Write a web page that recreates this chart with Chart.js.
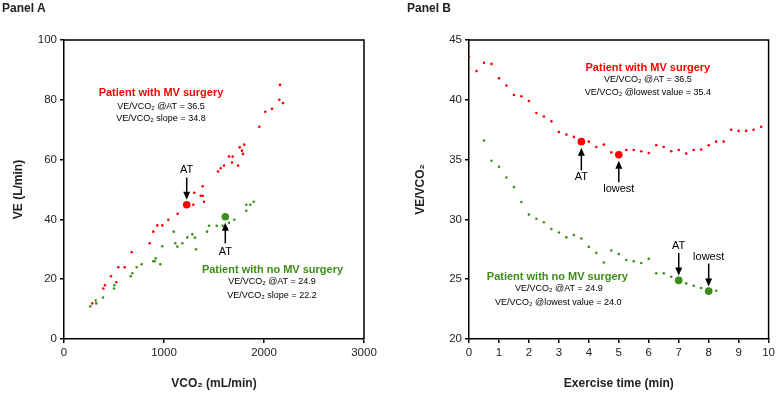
<!DOCTYPE html>
<html><head><meta charset="utf-8">
<script src="https://cdn.jsdelivr.net/npm/chart.js@4.4.1/dist/chart.umd.min.js"></script>
<style>
html,body{margin:0;padding:0;background:#fff;width:778px;height:395px;overflow:hidden;font-family:"Liberation Sans",Arial,sans-serif}
.wrap{position:absolute;top:0;width:389px;height:395px}
.lbl{position:absolute;top:1px;font-weight:bold;font-size:12px;color:#222;line-height:14px}
</style></head><body>
<div class="wrap" style="left:0"><canvas id="cA" width="389" height="395"></canvas></div>
<div class="wrap" style="left:389px"><canvas id="cB" width="389" height="395"></canvas></div>
<div class="lbl" style="left:2px">Panel A</div>
<div class="lbl" style="left:407px">Panel B</div>
<script>
// ---------- Panel A data: VE (L/min) vs VCO2 (mL/min) ----------
const mvVco2 = [283,393,410,470,523,543,607,677,857,893,933,983,1043,1137,1293,1400,1367,1387,1303,1387,1540,1567,1600,1740,1680,1650,1687,1790,1780,1757,1803,1953,2013,2080,2190,2153,2160];
const mvVe   = [11.9,16.9,18.0,21.0,19.0,24.0,24.0,29.0,32.0,35.9,38.0,38.0,39.9,41.9,44.9,45.9,47.9,47.9,48.9,51.1,56.0,57.1,58.0,58.0,59.0,61.0,61.0,61.9,63.0,64.1,65.0,71.0,76.0,77.0,78.9,80.0,85.0];
const noMvVco2 = [263,317,323,390,500,503,667,683,727,777,893,907,917,963,983,1097,1113,1133,1183,1233,1283,1310,1320,1430,1450,1527,1587,1650,1703,1823,1823,1863,1897];
const noMvVe   = [10.9,12.9,11.9,13.9,16.9,18.0,21.0,22.0,24.0,25.0,26.0,26.0,27.0,25.0,31.0,35.9,32.0,30.9,32.0,34.0,35.0,33.9,30.0,35.9,37.9,37.9,37.9,38.9,39.9,42.9,44.9,44.9,45.9];
const mvAtA   = {vco2: 1227, ve: 44.9};
const noMvAtA = {vco2: 1613, ve: 40.9};
const xTicksA = [0,1000,2000,3000];
const yTicksA = [0,20,40,60,80,100];

// ---------- Panel B data: VE/VCO2 vs exercise time (min) ----------
const mvTime = [0,0.25,0.5,0.75,1,1.25,1.5,1.75,2,2.25,2.5,2.75,3,3.25,3.5,3.75,4,4.25,4.5,4.75,5,5.25,5.5,5.75,6,6.25,6.5,6.75,7,7.25,7.5,7.75,8,8.25,8.5,8.75,9,9.25,9.5,9.75];
const mvRatio = [43.6,42.4,43.1,43.0,41.8,41.2,40.4,40.3,39.9,38.9,38.6,38.2,37.3,37.1,36.9,36.5,36.5,36.05,36.25,35.6,35.4,35.8,35.8,35.7,35.55,36.2,36.05,35.7,35.8,35.5,35.8,35.85,36.2,36.5,36.5,37.5,37.4,37.4,37.5,37.75];
const noMvTime = [0,0.5,0.75,1,1.25,1.5,1.75,2,2.25,2.5,2.75,3,3.25,3.5,3.75,4,4.25,4.5,4.75,5,5.25,5.5,5.75,6,6.25,6.5,6.75,7,7.25,7.5,7.75,8,8.25];
const noMvRatio = [42.6,36.6,34.9,34.4,33.5,32.7,31.45,30.4,30.06,29.76,29.2,28.9,28.5,28.7,28.4,27.7,27.2,26.4,27.4,27.1,26.6,26.5,26.35,26.7,25.5,25.5,25.2,24.85,24.65,24.45,24.26,23.95,24.04];
const mvKeyTime = [3.75, 5.0];     // AT, lowest
const mvKeyRatio = [36.5, 35.4];
const noMvKeyTime = [7.0, 8.0];
const noMvKeyRatio = [24.9, 24.0];
const xTicksB = [0,1,2,3,4,5,6,7,8,9,10];
const yTicksB = [20,25,30,35,40,45];

const RED = '#ff0000';
const GREEN = '#3a8f14';
const FONT = '"Liberation Sans", Arial, Helvetica, sans-serif';

function pts(xs, ys){ return xs.map((x,i)=>({x:x, y:ys[i]})); }

function annotPlugin(items){
  return {
    id:'annot',
    afterDatasetsDraw(chart){
      const ctx = chart.ctx, xs = chart.scales.x, ys = chart.scales.y, a = chart.chartArea;
      ctx.save();
      ctx.strokeStyle = '#000'; ctx.lineWidth = 1.5;
      ctx.beginPath();
      ctx.moveTo(a.left, a.top); ctx.lineTo(a.right, a.top); ctx.lineTo(a.right, a.bottom);
      ctx.stroke();
      items.forEach(it=>{
        const px = xs.getPixelForValue(it.x);
        if (it.type === 'text'){
          ctx.font = (it.bold ? 'bold ' : '') + it.size + 'px ' + FONT;
          ctx.fillStyle = it.color || '#000';
          ctx.textAlign = 'center'; ctx.textBaseline = 'middle';
          ctx.fillText(it.text, px, ys.getPixelForValue(it.y));
        } else {
          const y1 = ys.getPixelForValue(it.y1), y2 = ys.getPixelForValue(it.y2);
          const dir = Math.sign(y2 - y1);
          ctx.strokeStyle = '#000'; ctx.fillStyle = '#000'; ctx.lineWidth = 1.5;
          ctx.beginPath(); ctx.moveTo(px, y1); ctx.lineTo(px, y2 - dir*6); ctx.stroke();
          ctx.beginPath(); ctx.moveTo(px, y2); ctx.lineTo(px-3.5, y2 - dir*8); ctx.lineTo(px+3.5, y2 - dir*8); ctx.closePath(); ctx.fill();
        }
      });
      ctx.restore();
    }
  };
}

function scaleCfg(min, max, ticksArr, title, titlePad, fit, isY){
  return {
    type:'linear', min:min, max:max,
    afterBuildTicks: s => { s.ticks = ticksArr.map(v=>({value:v})); },
    afterFit: s => { if (isY) s.width = fit; else s.height = fit; },
    grid:{drawOnChartArea:false, drawTicks:true, tickLength:4, color:'#000', tickColor:'#000', lineWidth:1.5},
    border:{display:true, color:'#000', width:1.5},
    ticks:{color:'#222', font:{family:FONT, size:11.5}, padding:3, maxRotation:0, autoSkip:false,
           callback: v => String(v)},
    title:{display:true, text:title, color:'#222', font:{family:FONT, size:12, weight:'bold'}, padding:titlePad}
  };
}

const common = {
  responsive:false, animation:false, devicePixelRatio:1,
  plugins:{legend:{display:false}, tooltip:{enabled:false}, title:{display:false}},
  events:[]
};

new Chart(document.getElementById('cA'), {
  type:'scatter',
  data:{datasets:[
    {data:pts([mvAtA.vco2],[mvAtA.ve]), backgroundColor:RED, borderWidth:0, pointRadius:3.8},
    {data:pts([noMvAtA.vco2],[noMvAtA.ve]), backgroundColor:GREEN, borderWidth:0, pointRadius:3.8},
    {data:pts(mvVco2, mvVe), backgroundColor:RED, borderWidth:0, pointRadius:1.3},
    {data:pts(noMvVco2, noMvVe), backgroundColor:GREEN, borderWidth:0, pointRadius:1.3}
  ]},
  options:Object.assign({}, common, {
    layout:{padding:{left:0, right:25, top:40, bottom:0}},
    scales:{
      x: scaleCfg(0, 3000, xTicksA, 'VCO\u2082 (mL/min)', {top:0, bottom:4}, 56, false),
      y: scaleCfg(0, 100, yTicksA, 'VE (L/min)', {top:11, bottom:0}, 64, true)
    }
  }),
  plugins:[annotPlugin([
    {type:'text', text:'Patient with MV surgery', x:970, y:82.3, size:11, bold:true, color:RED},
    {type:'text', text:'VE/VCO\u2082 @AT = 36.5', x:970, y:77.9, size:9},
    {type:'text', text:'VE/VCO\u2082 slope = 34.8', x:970, y:73.9, size:9},
    {type:'text', text:'AT', x:1227, y:56.6, size:11},
    {type:'arrow', x:1227, y1:54.0, y2:46.6},
    {type:'arrow', x:1613, y1:32.0, y2:38.9},
    {type:'text', text:'AT', x:1613, y:29.1, size:11},
    {type:'text', text:'Patient with no MV surgery', x:2085, y:23.1, size:11, bold:true, color:GREEN},
    {type:'text', text:'VE/VCO\u2082 @AT = 24.9', x:2080, y:19.1, size:9},
    {type:'text', text:'VE/VCO\u2082 slope = 22.2', x:2080, y:14.4, size:9}
  ])]
});

new Chart(document.getElementById('cB'), {
  type:'scatter',
  data:{datasets:[
    {data:pts(mvKeyTime, mvKeyRatio), backgroundColor:RED, borderWidth:0, pointRadius:3.8},
    {data:pts(noMvKeyTime, noMvKeyRatio), backgroundColor:GREEN, borderWidth:0, pointRadius:3.8},
    {data:pts(mvTime, mvRatio), backgroundColor:RED, borderWidth:0, pointRadius:1.3},
    {data:pts(noMvTime, noMvRatio), backgroundColor:GREEN, borderWidth:0, pointRadius:1.3}
  ]},
  options:Object.assign({}, common, {
    layout:{padding:{left:0, right:9, top:40, bottom:0}},
    scales:{
      x: scaleCfg(0, 10, xTicksB, 'Exercise time (min)', {top:0, bottom:4}, 56, false),
      y: scaleCfg(20, 45, yTicksB, 'VE/VCO\u2082', {top:24, bottom:0}, 80, true)
    }
  }),
  plugins:[annotPlugin([
    {type:'text', text:'Patient with MV surgery', x:5.97, y:42.68, size:11, bold:true, color:RED},
    {type:'text', text:'VE/VCO\u2082 @AT = 36.5', x:5.97, y:41.66, size:9},
    {type:'text', text:'VE/VCO\u2082 @lowest value = 35.4', x:5.97, y:40.65, size:9},
    {type:'arrow', x:3.75, y1:34.1, y2:36.0},
    {type:'text', text:'AT', x:3.75, y:33.55, size:11},
    {type:'arrow', x:5.0, y1:33.1, y2:34.9},
    {type:'text', text:'lowest', x:5.0, y:32.55, size:11},
    {type:'text', text:'AT', x:7.0, y:27.78, size:11},
    {type:'arrow', x:7.0, y1:27.2, y2:25.3},
    {type:'text', text:'lowest', x:8.0, y:26.88, size:11},
    {type:'arrow', x:8.0, y1:26.3, y2:24.4},
    {type:'text', text:'Patient with no MV surgery', x:2.95, y:25.21, size:11, bold:true, color:GREEN},
    {type:'text', text:'VE/VCO\u2082 @AT = 24.9', x:3.0, y:24.18, size:9},
    {type:'text', text:'VE/VCO\u2082 @lowest value = 24.0', x:2.98, y:23.09, size:9}
  ])]
});
</script>
</body></html>
